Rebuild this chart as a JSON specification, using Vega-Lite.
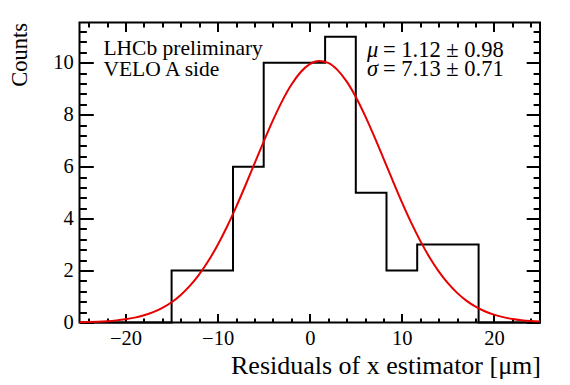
{
  "$schema": "https://vega.github.io/schema/vega-lite/v6.json",
  "width": 460.5,
  "height": 300,
  "autosize": {"type": "none"},
  "padding": {"left": 79.5, "top": 22.5, "right": 30, "bottom": 62.5},
  "background": "white",
  "config": {
    "view": {"stroke": "black", "strokeWidth": 2},
    "axis": {
      "grid": false, "domain": false, "tickColor": "black", "tickWidth": 2,
      "labelFont": "Liberation Serif", "labelFontSize": 20.5, "labelColor": "black",
      "labelFlush": false, "labelOverlap": false,
      "titleFont": "Liberation Serif", "titleFontWeight": "normal", "titleColor": "black"
    },
    "text": {"font": "Liberation Serif", "color": "black"}
  },
  "resolve": {"axis": {"x": "independent", "y": "independent"}},
  "layer": [
    {
      "data": {"values": [
        {"bin_start": -25, "count": 0}, {"bin_start": -21.667, "count": 0},
        {"bin_start": -18.333, "count": 0}, {"bin_start": -15, "count": 2},
        {"bin_start": -11.667, "count": 2}, {"bin_start": -8.333, "count": 6},
        {"bin_start": -5, "count": 10}, {"bin_start": -1.667, "count": 10},
        {"bin_start": 1.667, "count": 11}, {"bin_start": 5, "count": 5},
        {"bin_start": 8.333, "count": 2}, {"bin_start": 11.667, "count": 3},
        {"bin_start": 15, "count": 3}, {"bin_start": 18.333, "count": 0},
        {"bin_start": 21.667, "count": 0}, {"bin_start": 25, "count": 0}
      ]},
      "mark": {"type": "line", "interpolate": "step-after", "color": "black", "strokeWidth": 2},
      "encoding": {
        "x": {
          "field": "bin_start", "type": "quantitative",
          "scale": {"domain": [-25, 25], "nice": false, "zero": false},
          "axis": {
            "orient": "bottom", "values": [-20, -10, 0, 10, 20], "tickSize": -9,
            "labelPadding": 15, "format": "d",
            "title": "Residuals of x estimator [μm]", "titleFontSize": 26,
            "titleAnchor": "end", "titleAlign": "right", "titleBaseline": "alphabetic",
            "titleX": 461, "titleY": 50.6
          }
        },
        "y": {
          "field": "count", "type": "quantitative",
          "scale": {"domain": [0, 11.55], "nice": false},
          "axis": {
            "orient": "left", "values": [0, 2, 4, 6, 8, 10], "tickSize": -13.8,
            "labelPadding": 20, "format": "d",
            "title": "Counts", "titleFontSize": 22.5, "titleAngle": 270,
            "titleAnchor": "end", "titleAlign": "right", "titleBaseline": "alphabetic",
            "titleX": -53, "titleY": 0
          }
        }
      }
    },
    {
      "data": {"values": [
        {"x": -25, "fit": 0.0123}, {"x": -24, "fit": 0.0203}, {"x": -23, "fit": 0.033},
        {"x": -22, "fit": 0.0525}, {"x": -21, "fit": 0.0819}, {"x": -20, "fit": 0.1252},
        {"x": -19, "fit": 0.1879}, {"x": -18, "fit": 0.2764}, {"x": -17, "fit": 0.3986},
        {"x": -16, "fit": 0.5638}, {"x": -15, "fit": 0.7818}, {"x": -14, "fit": 1.063},
        {"x": -13, "fit": 1.4172}, {"x": -12, "fit": 1.8526}, {"x": -11, "fit": 2.3747},
        {"x": -10, "fit": 2.9843}, {"x": -9, "fit": 3.6777}, {"x": -8, "fit": 4.4438},
        {"x": -7, "fit": 5.265}, {"x": -6, "fit": 6.1163}, {"x": -5, "fit": 6.967},
        {"x": -4, "fit": 7.7814}, {"x": -3, "fit": 8.5216}, {"x": -2, "fit": 9.1506},
        {"x": -1, "fit": 9.6346}, {"x": 0, "fit": 9.9465}, {"x": 1, "fit": 10.0686},
        {"x": 2, "fit": 9.9936}, {"x": 3, "fit": 9.726}, {"x": 4, "fit": 9.2811},
        {"x": 5, "fit": 8.6842}, {"x": 6, "fit": 7.9673}, {"x": 7, "fit": 7.1672},
        {"x": 8, "fit": 6.3218}, {"x": 9, "fit": 5.4676}, {"x": 10, "fit": 4.6367},
        {"x": 11, "fit": 3.8555}, {"x": 12, "fit": 3.1435}, {"x": 13, "fit": 2.513},
        {"x": 14, "fit": 1.9698}, {"x": 15, "fit": 1.514}, {"x": 16, "fit": 1.141},
        {"x": 17, "fit": 0.8431}, {"x": 18, "fit": 0.6109}, {"x": 19, "fit": 0.434},
        {"x": 20, "fit": 0.3023}, {"x": 21, "fit": 0.2065}, {"x": 22, "fit": 0.1383},
        {"x": 23, "fit": 0.0908}, {"x": 24, "fit": 0.0585}, {"x": 25, "fit": 0.0369}
      ]},
      "mark": {"type": "line", "interpolate": "monotone", "color": "#e60000", "strokeWidth": 2},
      "encoding": {
        "x": {
          "field": "x", "type": "quantitative",
          "scale": {"domain": [-25, 25], "nice": false, "zero": false},
          "axis": {
            "orient": "bottom",
            "values": [-24, -22, -18, -16, -14, -12, -8, -6, -4, -2, 2, 4, 6, 8, 12, 14, 16, 18, 22, 24],
            "tickSize": -4.5, "labels": false, "title": null
          }
        },
        "y": {
          "field": "fit", "type": "quantitative",
          "scale": {"domain": [0, 11.55], "nice": false},
          "axis": {
            "orient": "left",
            "values": [0.4, 0.8, 1.2, 1.6, 2.4, 2.8, 3.2, 3.6, 4.4, 4.8, 5.2, 5.6, 6.4, 6.8, 7.2, 7.6, 8.4, 8.8, 9.2, 9.6, 10.4, 10.8, 11.2],
            "tickSize": -6.9, "labels": false, "title": null
          }
        }
      }
    },
    {
      "data": {"values": [{"label": "LHCb preliminary\nVELO A side"}]},
      "mark": {"type": "text", "align": "left", "baseline": "alphabetic", "fontSize": 21.5, "lineBreak": "\n", "lineHeight": 21},
      "encoding": {
        "x": {
          "datum": -22.4, "type": "quantitative",
          "axis": {"orient": "top", "values": [-20, -10, 0, 10, 20], "tickSize": -9, "labels": false, "title": null}
        },
        "y": {
          "datum": 10.28, "type": "quantitative",
          "axis": {"orient": "right", "values": [0, 2, 4, 6, 8, 10], "tickSize": -13.8, "labels": false, "title": null}
        },
        "text": {"field": "label"}
      }
    },
    {
      "data": {"values": [{"label": "μ\nσ"}]},
      "mark": {"type": "text", "align": "left", "baseline": "alphabetic", "fontSize": 22.5, "fontStyle": "italic", "lineBreak": "\n", "lineHeight": 19.5},
      "encoding": {
        "x": {
          "datum": 6.22, "type": "quantitative",
          "axis": {
            "orient": "top",
            "values": [-24, -22, -18, -16, -14, -12, -8, -6, -4, -2, 2, 4, 6, 8, 12, 14, 16, 18, 22, 24],
            "tickSize": -4.5, "labels": false, "title": null
          }
        },
        "y": {
          "datum": 10.24, "type": "quantitative",
          "axis": {
            "orient": "right",
            "values": [0.4, 0.8, 1.2, 1.6, 2.4, 2.8, 3.2, 3.6, 4.4, 4.8, 5.2, 5.6, 6.4, 6.8, 7.2, 7.6, 8.4, 8.8, 9.2, 9.6, 10.4, 10.8, 11.2],
            "tickSize": -6.9, "labels": false, "title": null
          }
        },
        "text": {"field": "label"}
      }
    },
    {
      "data": {"values": [{"label": "= 1.12 ± 0.98\n= 7.13 ± 0.71"}]},
      "mark": {"type": "text", "align": "left", "baseline": "alphabetic", "fontSize": 22.5, "lineBreak": "\n", "lineHeight": 19.5},
      "encoding": {
        "x": {"datum": 7.95, "type": "quantitative", "axis": null},
        "y": {"datum": 10.24, "type": "quantitative", "axis": null},
        "text": {"field": "label"}
      }
    }
  ]
}
